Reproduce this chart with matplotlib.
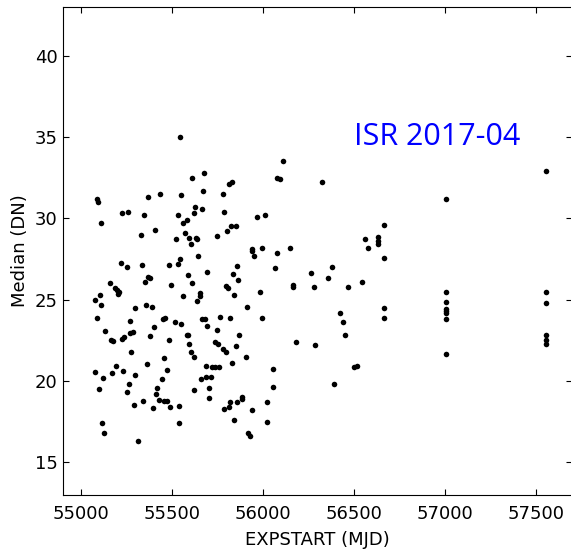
import matplotlib
matplotlib.use("Agg")
import matplotlib.pyplot as plt

# EXPSTART (MJD) and median dark value (DN)
expstart = [
    55546, 55679, 55610, 55672, 55091, 55095, 55370, 55436, 55553, 55630,
    55667, 55623, 55227, 55258, 55348, 55533, 55113, 55583, 55564, 55408,
    55575, 55328, 55525, 55595, 55632, 55641, 55605, 56110, 56079, 56094,
    56326, 55813, 55833, 55780, 55788, 55970, 56011, 55826, 55850, 55804,
    55747, 55938, 55998, 56150, 55646, 55546, 55220, 55251, 55337, 55484,
    55533, 55696, 55591, 55368, 55381, 55350, 55610, 55496, 55161, 55189,
    55198, 55207, 55203, 55654, 55654, 55564, 55104, 55077, 55641, 55110,
    55357, 55390, 55300, 55088, 55454, 55465, 55269, 55517, 55553, 55668,
    55683, 55694, 55404, 55130, 55271, 55284, 55381, 55236, 55225, 55583,
    55591, 55163, 55178, 55485, 55597, 55276, 55606, 55623, 55459, 55940,
    55954, 56080, 55857, 55835, 55864, 56068, 56266, 56361, 55795, 55810,
    55844, 55984, 56167, 56167, 56280, 55914, 55764, 55820, 55996, 55747,
    55870, 56182, 56289, 55736, 55756, 55850, 55780, 55799, 55905, 55361,
    55192, 55080, 55170, 55234, 55474, 55687, 55124, 55297, 55447, 55687,
    55661, 55264, 55101, 55418, 55621, 55254, 55414, 55704, 55704, 55427,
    55458, 55476, 55344, 55291, 55394, 55491, 55540, 55540, 55117, 55128,
    55313, 55720, 55738, 55760, 55828, 56055, 55718, 56055, 56024, 55788,
    55813, 55820, 55857, 55883, 55885, 55940, 55844, 56024, 55916, 55932,
    57007, 57555, 56665, 56561, 56634, 56634, 56634, 56577, 56668, 56381,
    56471, 56547, 57007, 57555, 57007, 57555, 57007, 57007, 57007, 57007,
    56667, 56667, 56425, 56440, 56454, 57555, 57555, 57555, 57007, 56502,
    56517, 56394,
]
median = [
    35.0, 32.8, 32.5, 31.7, 31.2, 31.0, 31.3, 31.5, 31.4, 30.7,
    30.6, 30.3, 30.3, 30.4, 30.2, 30.2, 29.7, 29.9, 29.7, 29.3,
    29.1, 28.95, 28.7, 28.8, 28.8, 28.7, 28.4, 33.5, 32.5, 32.4,
    32.25, 32.1, 32.2, 31.5, 30.4, 30.1, 30.2, 29.5, 29.5, 29.2,
    28.9, 28.1, 28.2, 28.2, 27.7, 27.5, 27.25, 27.0, 27.1, 27.1,
    27.2, 26.7, 26.5, 26.4, 26.3, 26.1, 26.0, 25.9, 26.0, 25.7,
    25.6, 25.45, 25.35, 25.4, 25.25, 25.2, 25.3, 24.95, 24.9, 24.65,
    24.7, 24.55, 24.5, 23.9, 23.8, 23.85, 23.7, 23.6, 23.5, 23.8,
    23.8, 23.4, 23.3, 23.1, 22.95, 23.0, 22.75, 22.7, 22.6, 22.85,
    22.8, 22.5, 22.45, 22.5, 22.25, 21.8, 21.8, 21.5, 21.4, 28.0,
    27.7, 27.85, 27.05, 26.6, 26.2, 26.95, 26.65, 26.35, 25.85, 25.7,
    25.3, 25.45, 25.9, 25.75, 25.8, 24.55, 23.95, 23.85, 23.9, 23.15,
    22.8, 22.4, 22.2, 22.4, 22.3, 22.15, 21.95, 21.8, 21.5, 21.05,
    20.95, 20.55, 20.5, 20.6, 20.7, 20.95, 20.2, 20.35, 20.1, 20.25,
    20.1, 19.8, 19.5, 19.6, 19.45, 19.3, 19.2, 19.6, 18.95, 18.85,
    18.8, 18.8, 18.8, 18.55, 18.35, 18.4, 18.45, 17.45, 17.4, 16.8,
    16.3, 20.85, 20.85, 20.85, 21.1, 20.75, 20.25, 19.65, 18.7, 18.3,
    18.4, 18.7, 18.7, 19.0, 18.9, 18.2, 17.6, 17.5, 16.8, 16.65,
    31.2, 32.9, 29.6, 28.7, 28.85, 28.6, 28.4, 28.15, 27.55, 27.0,
    25.75, 26.1, 25.5, 25.45, 24.85, 24.8, 24.4, 24.3, 24.2, 23.8,
    24.5, 23.85, 24.15, 23.6, 22.8, 22.8, 22.55, 22.3, 21.65, 20.85,
    20.95, 19.8,
]

fig = plt.figure(figsize=(5.71, 5.52), dpi=100)
ax = fig.add_axes([0.1098, 0.1033, 0.8920, 0.8846])

ax.plot(expstart, median, "o", color="black", markersize=4, markeredgewidth=0)

ax.set_xlim(54900, 57700)
ax.set_ylim(13, 43)
ax.set_xticks([55000, 55500, 56000, 56500, 57000, 57500])
ax.set_yticks([15, 20, 25, 30, 35, 40])
ax.tick_params(direction="in", top=True, right=True, length=4, labelsize=13)
ax.tick_params(axis="x", pad=7)
ax.set_xlabel("EXPSTART (MJD)", fontsize=13, labelpad=6)
ax.set_ylabel("Median (DN)", fontsize=13)

ax.text(56500, 35, "ISR 2017-04", color="blue", fontsize=22,
        family="Open Sans", ha="left", va="center")

fig.savefig("out.png", dpi=100)
